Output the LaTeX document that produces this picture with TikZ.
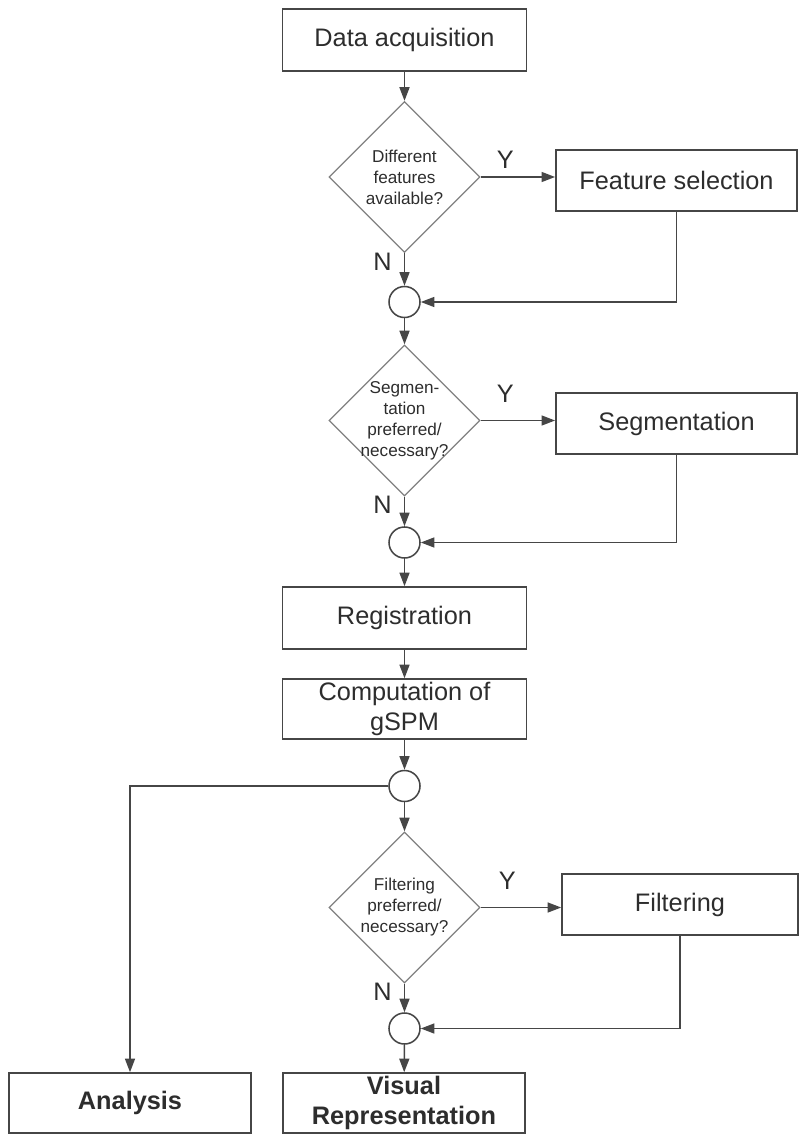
\documentclass[tikz,border=0pt]{standalone}
\usepackage{fontspec}
\setmainfont{Liberation Sans}
\usetikzlibrary{shapes.geometric,arrows.meta,positioning}
\definecolor{linecolor}{RGB}{70,70,70}
\definecolor{diamondcolor}{RGB}{128,128,128}
\definecolor{textcolor}{RGB}{45,45,45}

\begin{document}
\begin{tikzpicture}[
    x=0.025cm, y=-0.025cm,
    process/.style={rectangle, draw=linecolor, line width=1.1pt, minimum width=6.1cm, minimum height=1.55cm, align=center, text=textcolor, inner sep=0pt, font=\fontsize{18}{21}\selectfont},
    sidebox/.style={process, minimum width=6.03cm, minimum height=1.53cm},
    endbox/.style={process, minimum width=6.05cm, minimum height=1.5cm, font=\fontsize{18}{21}\selectfont\bfseries},
    decision/.style={diamond, draw=diamondcolor, line width=0.9pt, minimum width=3.775cm, minimum height=3.775cm, inner sep=0pt},
    question/.style={align=center, text=textcolor, inner sep=0pt, font=\fontsize{12.2}{14.9}\selectfont},
    junction/.style={circle, draw=linecolor, line width=1.1pt, minimum size=0.775cm, inner sep=0pt},
    flow/.style={-{Triangle[length=0.34cm, width=0.25cm]}, draw=linecolor, line width=1.1pt},
    answer/.style={text=textcolor, inner sep=0pt, font=\fontsize{18}{21}\selectfont}
]

\useasboundingbox (0,0) rectangle (798,1135);

% Main column
\node[process] (acq) at (404.5,40) {Data acquisition};
\node[decision, label={[question]center:{Different\\features\\available?}}] (featq) at (404.5,177) {};
\node[junction] (join1) at (404.5,302) {};
\node[decision, label={[question]center:{Segmen-\\tation\\preferred/\\necessary?}}] (segq) at (404.5,420.5) {};
\node[junction] (join2) at (404.5,542.5) {};
\node[process] (reg) at (404.5,618) {Registration};
\node[process, minimum height=1.5cm] (gspm) at (404.5,709) {Computation of\\gSPM};
\node[junction] (join3) at (404.5,786) {};
\node[decision, label={[question]center:{Filtering\\preferred/\\necessary?}}] (filtq) at (404.5,907.5) {};
\node[junction] (join4) at (404.5,1028.5) {};

% Optional steps
\node[sidebox] (featsel) at (676.5,180.5) {Feature selection};
\node[sidebox] (seg) at (676.5,423.5) {Segmentation};
\node[sidebox, minimum width=5.9cm] (filt) at (680,904.5) {Filtering};

% Outputs
\node[endbox] (analysis) at (130,1103) {Analysis};
\node[endbox] (visual) at (404,1103) {Visual\\Representation};

% Feature selection branch
\draw[flow] (acq) -- (featq);
\draw[flow] (featq.east) -- node[answer, above=0.2cm, pos=0.33] {Y} (featq.east -| featsel.west);
\draw[flow] (featq) -- node[answer, left=0.3cm, pos=0.27] {N} (join1);
\draw[flow] (featsel.south) |- (join1.east);

% Segmentation branch
\draw[flow] (join1) -- (segq);
\draw[flow] (segq.east) -- node[answer, above=0.42cm, pos=0.33] {Y} (segq.east -| seg.west);
\draw[flow] (segq) -- node[answer, left=0.3cm, pos=0.27] {N} (join2);
\draw[flow] (seg.south) |- (join2.east);

% Registration and gSPM
\draw[flow] (join2) -- (reg);
\draw[flow] (reg) -- (gspm);
\draw[flow] (gspm) -- (join3);

% Filtering branch
\draw[flow] (join3.west) -| (analysis.north);
\draw[flow] (join3) -- (filtq);
\draw[flow] (filtq.east) -- node[answer, above=0.42cm, pos=0.33] {Y} (filtq.east -| filt.west);
\draw[flow] (filtq) -- node[answer, left=0.3cm, pos=0.27] {N} (join4);
\draw[flow] (filt.south) |- (join4.east);
\draw[flow] (join4) -- (visual);

\end{tikzpicture}
\end{document}
